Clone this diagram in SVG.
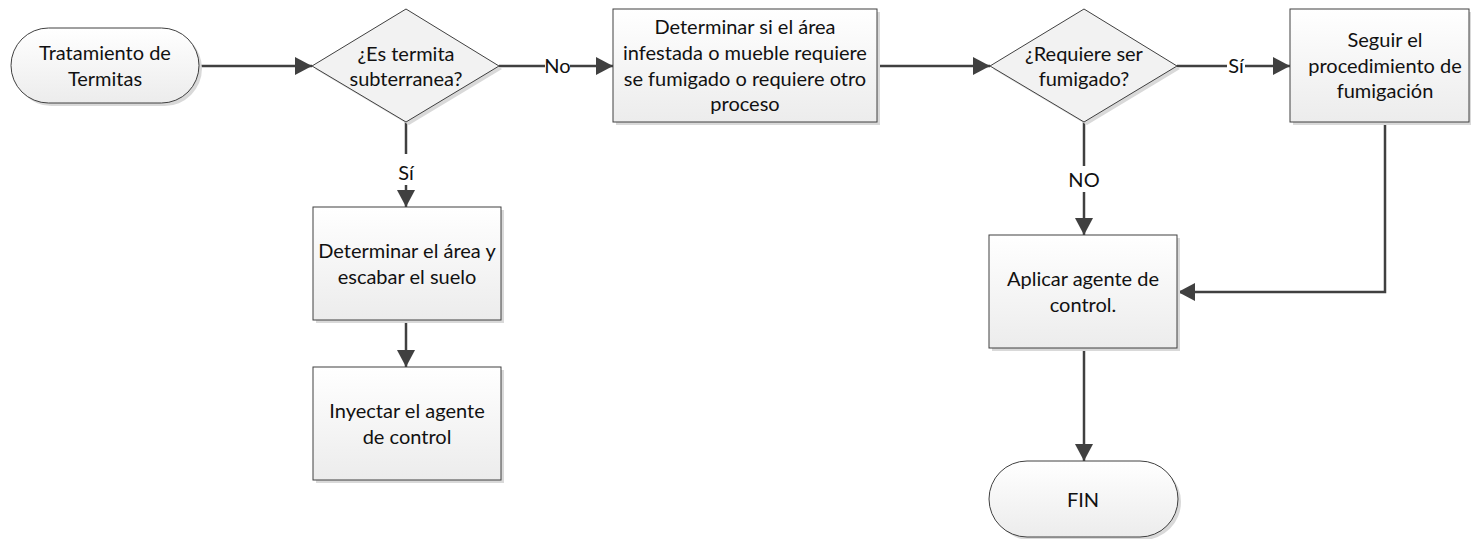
<svg xmlns="http://www.w3.org/2000/svg" width="1471" height="539" viewBox="0 0 1471 539">
  <defs>
    <linearGradient id="boxFill" x1="0" y1="0" x2="0" y2="1">
      <stop offset="0" stop-color="#ffffff"/>
      <stop offset="1" stop-color="#ececec"/>
    </linearGradient>
    <marker id="arrow" viewBox="0 0 17 18" refX="17" refY="9" markerWidth="17" markerHeight="18" markerUnits="userSpaceOnUse" orient="auto">
      <path d="M0,0 L17,9 L0,18 Z" fill="#404040"/>
    </marker>
    <style>
      .shape { fill: url(#boxFill); stroke: #404040; stroke-width: 1; }
      .diamond { fill: #f2f2f2; stroke: #404040; stroke-width: 1; }
      .shadow { fill: #d9d9d9; }
      .label { font-family: Lato, "Liberation Sans", sans-serif; font-size: 20px; fill: #111111; text-anchor: middle; }
      .edge { fill: none; stroke: #404040; stroke-width: 2.5; marker-end: url(#arrow); }
      .edge-plain { fill: none; stroke: #404040; stroke-width: 2.5; }
      .tag-bg { fill: #ffffff; }
    </style>
  </defs>
  <rect width="1471" height="539" fill="#ffffff"/>

  <!-- connectors -->
  <g id="connectors">
    <path class="edge" d="M199,66 H312"/>
    <path class="edge" d="M499,66 H613"/>
    <path class="edge" d="M877,66 H990"/>
    <path class="edge" d="M1177,66 H1290"/>
    <path class="edge" d="M1084,122 V235"/>
    <path class="edge" d="M1385,122 V292 H1178"/>
    <path class="edge" d="M1084,348 V461"/>
    <path class="edge" d="M406,122 V207"/>
    <path class="edge" d="M406,320 V367"/>
    <!-- branch tags -->
    <rect class="tag-bg" x="545" y="56" width="25" height="20"/>
    <text class="label" x="557.5" y="73">No</text>
    <rect class="tag-bg" x="1227" y="56" width="18" height="20"/>
    <text class="label" x="1236" y="73">Sí</text>
    <rect class="tag-bg" x="396" y="154" width="20" height="31"/>
    <text class="label" x="406" y="180">Sí</text>
    <rect class="tag-bg" x="1070" y="166" width="28" height="26"/>
    <text class="label" x="1084" y="187">NO</text>
  </g>

  <g id="start">
    <rect class="shadow" x="14" y="31" width="188" height="75" rx="37.5"/>
    <rect class="shape" x="11" y="28" width="188" height="75" rx="37.5"/>
    <text class="label" x="105" y="60">Tratamiento de</text>
    <text class="label" x="105" y="86">Termitas</text>
  </g>

  <g id="decision-subterranea">
    <polygon class="shadow" points="409,12 502,69 409,125 315,69"/>
    <polygon class="diamond" points="406,9 499,66 406,122 312,66"/>
    <text class="label" x="406" y="61">¿Es termita</text>
    <text class="label" x="406" y="86">subterranea?</text>
  </g>

  <g id="determinar-proceso">
    <rect class="shadow" x="616" y="12" width="264" height="113"/>
    <rect class="shape" x="613" y="9" width="264" height="113"/>
    <text class="label" x="745" y="34">Determinar si el área</text>
    <text class="label" x="745" y="60">infestada o mueble requiere</text>
    <text class="label" x="745" y="86">se fumigado o requiere otro</text>
    <text class="label" x="745" y="111">proceso</text>
  </g>

  <g id="decision-fumigado">
    <polygon class="shadow" points="1087,12 1180,69 1087,125 993,69"/>
    <polygon class="diamond" points="1084,9 1177,66 1084,122 990,66"/>
    <text class="label" x="1084" y="61">¿Requiere ser</text>
    <text class="label" x="1084" y="86">fumigado?</text>
  </g>

  <g id="seguir-fumigacion">
    <rect class="shadow" x="1293" y="12" width="178" height="113"/>
    <rect class="shape" x="1290" y="9" width="179" height="113"/>
    <text class="label" x="1385" y="47">Seguir el</text>
    <text class="label" x="1385" y="73">procedimiento de</text>
    <text class="label" x="1385" y="98">fumigación</text>
  </g>

  <g id="determinar-area">
    <rect class="shadow" x="316" y="210" width="188" height="113"/>
    <rect class="shape" x="313" y="207" width="188" height="113"/>
    <text class="label" x="407" y="258">Determinar el área y</text>
    <text class="label" x="407" y="284">escabar el suelo</text>
  </g>

  <g id="inyectar-agente">
    <rect class="shadow" x="316" y="370" width="188" height="113"/>
    <rect class="shape" x="313" y="367" width="188" height="113"/>
    <text class="label" x="407" y="418">Inyectar el agente</text>
    <text class="label" x="407" y="444">de control</text>
  </g>

  <g id="aplicar-agente">
    <rect class="shadow" x="992" y="238" width="188" height="113"/>
    <rect class="shape" x="989" y="235" width="188" height="113"/>
    <text class="label" x="1083" y="286">Aplicar agente de</text>
    <text class="label" x="1083" y="312">control.</text>
  </g>

  <g id="fin">
    <rect class="shadow" x="992" y="464" width="189" height="76" rx="38"/>
    <rect class="shape" x="989" y="461" width="189" height="76" rx="38"/>
    <text class="label" x="1083" y="507">FIN</text>
  </g>
</svg>
